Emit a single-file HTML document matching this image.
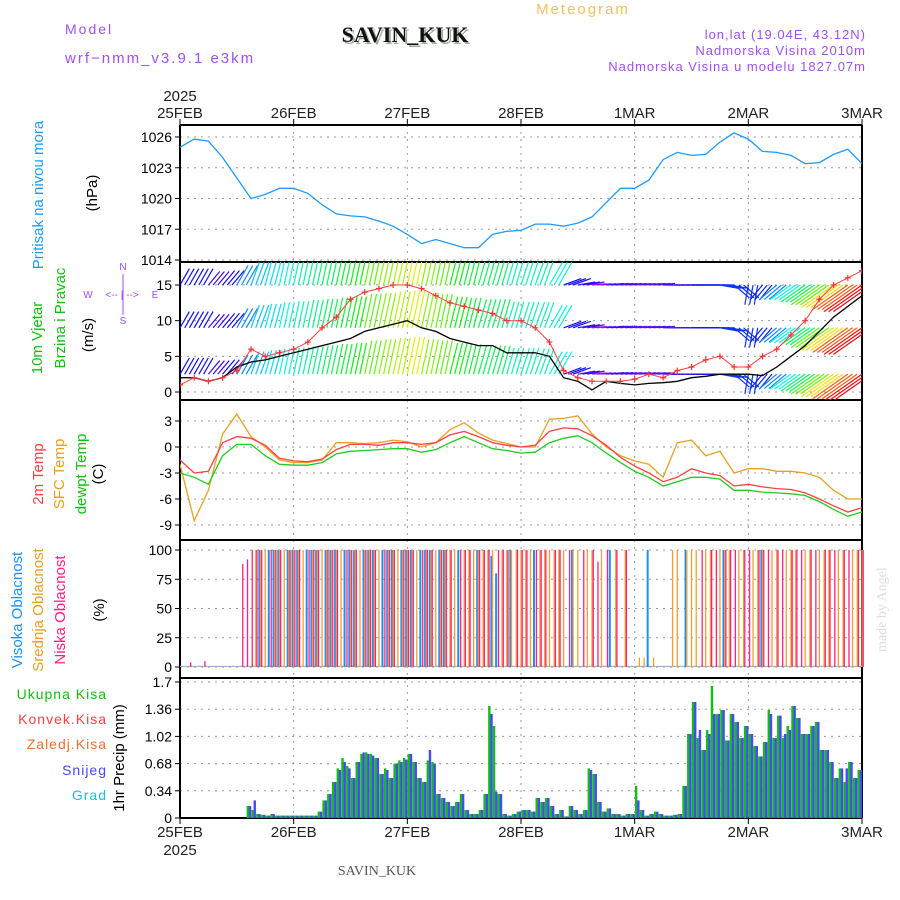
<!DOCTYPE html>
<html><head><meta charset="utf-8"><style>
body{margin:0;background:#fff;}
svg{display:block;font-family:"Liberation Sans",sans-serif;}
</style></head><body>
<svg id="c" width="900" height="900" viewBox="0 0 900 900">
<text x="65" y="34" font-size="14" fill="#a050f0" letter-spacing="2">Model</text>
<text x="65" y="63" font-size="15" fill="#a050f0" letter-spacing="2">wrf−nmm_v3.9.1 e3km</text>
<text x="407" y="44" font-size="22" font-weight="bold" font-family="Liberation Serif,serif" fill="#9ab09a" text-anchor="middle">SAVIN_KUK</text>
<text x="405" y="42" font-size="22" font-weight="bold" font-family="Liberation Serif,serif" fill="#111" text-anchor="middle">SAVIN_KUK</text>
<text x="583" y="14" font-size="15" fill="#f0c060" text-anchor="middle" letter-spacing="2">Meteogram</text>
<text x="866" y="39" font-size="13" fill="#a050f0" text-anchor="end" letter-spacing="1">lon,lat (19.04E, 43.12N)</text>
<text x="866" y="55" font-size="13" fill="#a050f0" text-anchor="end" letter-spacing="1">Nadmorska Visina 2010m</text>
<text x="866" y="71" font-size="13" fill="#a050f0" text-anchor="end" letter-spacing="1">Nadmorska Visina u modelu 1827.07m</text>
<text x="377" y="875" font-size="14" font-family="Liberation Serif,serif" fill="#555" text-anchor="middle">SAVIN_KUK</text>
<text transform="translate(886,652) rotate(-90)" font-size="14" font-family="Liberation Serif,serif" fill="#d8e0d8">made by Angel</text>
<g id="g"></g>
</svg>
<script>
const days=['25FEB','26FEB','27FEB','28FEB','1MAR','2MAR','3MAR'];
const pressure=[1025,1025.8,1025.6,1024,1022,1020,1020.4,1021,1021,1020.5,1019.4,1018.5,1018.3,1018.2,1017.8,1017.3,1016.5,1015.6,1016,1015.6,1015.2,1015.2,1016.5,1016.8,1016.9,1017.5,1017.5,1017.3,1017.6,1018.2,1019.6,1021,1021,1021.8,1023.8,1024.5,1024.2,1024.3,1025.5,1026.4,1025.8,1024.6,1024.5,1024.2,1023.4,1023.5,1024.3,1024.8,1023.4];
const windSpd=[2,2,1.5,2,3.5,4.2,4.5,5,5.5,6,6.5,7,7.5,8.5,9,9.5,10,9,8.5,7.5,7,6.5,6.5,5.5,5.5,5.5,5,2,1.5,0.3,1.5,1.2,1,1.2,1.3,1.5,2,2.2,2.5,2.5,2.5,2.3,3.5,5,6.5,8.5,10.5,12,13.5];
const windGust=[1,2,1.5,2,3,6,5,5.5,6,7,9,10.5,13,14,14.5,15,15,14.5,13.5,12.5,12,11.5,11,10,10,9,7,3,2,1.5,1.5,1.5,1.8,2.5,2,3,3.5,4.5,5,3.5,3.5,5,6,8,10,13,15,16,17];
const windDir=[60,60,50,50,60,70,75,78,78,78,78,78,78,78,78,78,78,78,78,76,76,74,74,74,72,70,60,20,10,5,5,5,5,5,0,0,0,0,-10,-40,-100,-130,-140,-145,-145,-145,-145,-145,-145];
const temp2m=[-1.5,-3,-2.8,0.5,1.2,1,0.2,-1.3,-1.6,-1.7,-1.4,-0.3,0.3,0.3,0.2,0.5,0.5,0.3,0.5,1.4,1.8,1.2,0.5,0.2,0,0.2,1.8,2.2,2.1,1.3,0.2,-1.2,-2.2,-3,-4,-3.5,-2.5,-3,-3.3,-4.5,-4.3,-4.6,-4.8,-4.9,-5.3,-6,-6.8,-7.5,-7];
const tempSfc=[-2,-8.5,-5,1.5,3.8,1.2,0,-1.5,-1.8,-1.8,-1.5,0.5,0.5,0.4,0.5,0.8,0.6,0,0.5,2,2.8,1.6,0.8,0.4,0,0,3.2,3.3,3.6,1.5,0,-1,-1.6,-2,-3.5,0.5,0.8,-1,-0.5,-3,-2.5,-2.5,-2.8,-2.8,-3,-3.5,-5,-6,-6];
const dewpt=[-3,-3.5,-4.3,-1,0.3,0.3,-1,-2,-2.1,-2.1,-1.8,-0.8,-0.5,-0.4,-0.3,-0.2,-0.2,-0.6,-0.3,0.5,1.2,0.5,-0.2,-0.4,-0.7,-0.6,0.5,1,1.3,0.5,-0.7,-1.8,-2.8,-3.5,-4.5,-4,-3.5,-3.5,-3.7,-5,-5,-5.2,-5.3,-5.4,-5.6,-6.3,-7.2,-8,-7.5];
const cloudLow=[0,0,4,0,0,5,0,0,0,0,0,0,0,88,92,100,
100,100,0,100,100,100,0,100,100,100,0,100,100,100,0,100,100,100,0,100,100,100,0,100,100,100,0,100,100,100,0,100,100,100,0,100,100,100,0,100,100,100,0,100,100,100,0,100,100,100,0,100,100,100,0,100,100,100,0,100,100,100,0,100,
100,0,100,0,0,100,0,100,90,0,100,0,100,0,100,0,
0,0,0,0,0,0,0,0,0,0,0,0,0,0,
100,0,100,100,0,100,100,100,0,100,100,0,100,100,100,0,100,100,0,100,100,100,0,100,100,0,100,100,100,0,100,100,0,100,100];
const cloudMid=[0,0,0,0,0,0,0,0,0,0,0,0,0,0,0,0,
100,100,100,0,100,100,100,100,100,100,100,0,100,100,100,100,100,100,100,0,100,100,100,100,100,100,100,0,100,100,100,100,100,100,100,0,100,100,100,100,100,100,100,0,100,100,100,100,100,100,100,0,100,100,100,100,100,100,100,0,100,100,100,100,
100,100,0,100,100,0,100,100,0,100,0,0,100,0,100,0,0,
8,8,0,8,0,0,0,
100,100,0,100,100,100,0,100,100,0,100,100,100,0,100,100,0,100,100,100,0,100,100,0,100,100,100,0,100,100,0,100,100,100,0,100,100,0,100,100,100];
const cloudHigh=[0,0,0,0,0,0,0,0,0,0,0,0,0,0,0,0,0,
100,0,100,100,100,0,100,100,100,0,100,100,100,0,100,100,100,0,100,100,100,0,100,100,100,0,100,100,100,0,100,100,100,0,100,100,100,0,100,100,
0,0,100,0,0,0,100,0,0,95,80,0,0,100,0,0,
0,0,100,0,0,0,0,0,0,0,100,0,0,0,0,0,0,0,100,0,0,0,0,0,0,0,100,0,0,0,0,0,0,0,100,0,0,0,0,0,0,0,100,0,0,0,0,0,0,0,100,0,0,0,0,0];
const precipTotal=[0,0,0,0,0,0,0,0,0,0,0,0,0,0,0.15,0.1,0.05,0.04,0.03,0.05,0.03,0.03,0.03,0.03,0.03,0.03,0.03,0.03,0.03,0.08,0.22,0.3,
0.45,0.62,0.75,0.65,0.5,0.7,0.8,0.82,0.8,0.75,0.55,0.62,0.5,0.68,0.72,0.75,0.8,0.7,0.5,0.45,0.72,0.7,0.3,0.25,0.2,0.15,0.2,0.3,0.1,0.05,0.05,0.1,0.3,1.4,
1.15,0.3,0.05,0.03,0.05,0.08,0.1,0.1,0.08,0.25,0.2,0.25,0.15,0.05,0.1,0.02,0.15,0.1,0.05,0.1,0.62,0.55,0.2,0.08,0.12,0.05,0.05,0.03,0.05,0.05,0.4,0.1,0.03,0.05,0.08,0.05,0.03,0.03,0.04,0.05,0.4,
1.05,1.45,1.0,0.85,1.1,1.65,1.3,1.35,0.97,1.3,1.2,1.0,1.15,1.05,0.9,0.77,0.95,1.35,1.0,1.28,1.0,1.15,1.4,1.25,1.05,1.05,1.15,1.2,0.85,0.85,0.7,0.5,0.62,0.45,0.7,0.5,0.6];
const precipSnow=[0,0,0,0,0,0,0,0,0,0,0,0,0,0,0.15,0.22,0.05,0.04,0.03,0.05,0.03,0.03,0.03,0.03,0.03,0.03,0.03,0.03,0.03,0.08,0.22,0.3,
0.45,0.6,0.7,0.62,0.5,0.7,0.82,0.8,0.78,0.75,0.55,0.6,0.5,0.68,0.7,0.73,0.8,0.7,0.5,0.45,0.85,0.68,0.3,0.25,0.2,0.15,0.2,0.3,0.1,0.05,0.05,0.1,0.3,1.3,
0.33,0.3,0.05,0.03,0.05,0.08,0.1,0.1,0.08,0.25,0.2,0.25,0.15,0.05,0.1,0.02,0.15,0.1,0.05,0.1,0.6,0.55,0.2,0.08,0.12,0.05,0.05,0.03,0.05,0.05,0.22,0.1,0.03,0.05,0.08,0.05,0.03,0.03,0.04,0.05,0.4,
1.05,1.45,1.1,0.85,1.05,1.3,1.3,1.35,0.97,1.3,1.2,1.0,1.15,1.05,0.9,0.77,0.95,1.3,1.0,1.28,1.05,1.1,1.4,1.25,1.05,1.05,1.15,1.2,0.85,0.85,0.7,0.5,0.62,0.62,0.7,0.5,0.6];
const pTicks=[1014,1017,1020,1023,1026], wTicks=[0,5,10,15], tTicks=[-9,-6,-3,0,3], cTicks=[0,25,50,75,100], rTicks=[0,0.34,0.68,1.02,1.36,1.7];

const NS='http://www.w3.org/2000/svg', G=document.getElementById('g');
const X0=180,X1=862,HOURS=144;
const xh=h=>X0+(X1-X0)*h/HOURS;
const x3=i=>xh(i*3);
function lin(d0,d1,r0,r1){return v=>r0+(v-d0)*(r1-r0)/(d1-d0);}
const yP=lin(1014,1026,260,137), yW=lin(0,15,392,285), yT=lin(-9,3,525,421), yC=lin(0,100,667,550), yR=lin(0,1.7,818,682);
function el(t,a,p){const e=document.createElementNS(NS,t);for(const k in a)e.setAttribute(k,a[k]);(p||G).appendChild(e);return e;}
const panels=[[125,262,pTicks,yP,'pressure'],[262,400,wTicks,yW,'wind'],[400,540,tTicks,yT,'temperature'],[540,678,cTicks,yC,'cloud'],[678,818,rTicks,yR,'precip']];
panels.forEach(p=>{
  const g=el('g',{});
  
  
  for(let d=1;d<6;d++){const l=el('line',{x1:xh(d*24),x2:xh(d*24),y1:p[0],y2:p[1],stroke:'#999','stroke-dasharray':'2,5'},g);
    }
  p[2].forEach(v=>{const y=p[3](v);
    const l=el('line',{x1:X0,x2:X1,y1:y,y2:y,stroke:'#999','stroke-dasharray':'2,5'},g);
    
    el('line',{x1:X0-5,x2:X0,y1:y,y2:y,stroke:'#000'},g);
    const t=el('text',{x:X0-8,y:y+5,'font-size':14,'text-anchor':'end',fill:'#000'},g);
    t.textContent=String(v);
    });
});
[125,262,400,540,678,818].forEach(y=>{const l=el('line',{x1:X0,x2:X1,y1:y,y2:y,stroke:'#000','stroke-width':2});});
el('line',{x1:X0,x2:X0,y1:125,y2:818,stroke:'#000','stroke-width':2});
el('line',{x1:X1,x2:X1,y1:125,y2:818,stroke:'#000','stroke-width':2});
days.forEach((d,i)=>{const x=xh(i*24);
  el('line',{x1:x,x2:x,y1:119,y2:125,stroke:'#000'});el('line',{x1:x,x2:x,y1:818,y2:824,stroke:'#000'});
  let t=el('text',{x:x,y:118,'font-size':15,'text-anchor':'middle',fill:'#222'});t.textContent=d;
  
  t=el('text',{x:x,y:837,'font-size':15,'text-anchor':'middle',fill:'#222'});t.textContent=d;
  });
let t=el('text',{x:X0,y:101,'font-size':15,'text-anchor':'middle',fill:'#222'});t.textContent='2025';

t=el('text',{x:X0,y:855,'font-size':15,'text-anchor':'middle',fill:'#222'});t.textContent='2025';

function line(arr,yf,col,w,name,clip){const d=arr.map((v,i)=>(i?'L':'M')+x3(i).toFixed(1)+','+yf(v).toFixed(1)).join('');
  const p=el('path',{d:d,fill:'none',stroke:col,'stroke-width':w,'clip-path':clip||''});return p;}
const defs=el('defs',{});
[['cp1',125,262],['cp2',262,400],['cp3',400,540]].forEach(c=>{const cp=el('clipPath',{id:c[0]},defs);el('rect',{x:X0,y:c[1],width:X1-X0,height:c[2]-c[1]},cp);});
line(pressure,yP,'#1e9bff',1.3,'pressure-line','url(#cp1)');
const wg=el('g',{'clip-path':'url(#cp2)'});

[2.5,9,15].forEach(lv=>{windSpd.forEach((s,i)=>{
  const L=14+2.4*s, a=windDir[i]*Math.PI/180, x=x3(i), y=yW(lv);
  const col='hsl('+Math.max(0,285-s*22)+',90%,50%)';
  for(let k=0;k<3;k++){const xx=x+k*4.7;
  const ln=el('line',{x1:xx,y1:y,x2:xx+L*Math.cos(a),y2:y-L*Math.sin(a),stroke:col,'stroke-width':1.2},wg);
  }
});});
line(windSpd,yW,'#000',1.3,'wind-speed-line','url(#cp2)');
line(windGust,yW,'#ff4040',1,'wind-gust-line','url(#cp2)');
windGust.forEach((v,i)=>{const x=x3(i),y=yW(v);const p=el('path',{d:`M${x-3},${y}h6M${x},${y-3}v6`,stroke:'#ff3030','stroke-width':1.2,'clip-path':'url(#cp2)'});
  });
line(tempSfc,yT,'#e8a020',1.3,'sfc-temp-line','url(#cp3)');
line(temp2m,yT,'#ff4040',1.3,'2m-temp-line','url(#cp3)');
line(dewpt,yT,'#20cc20',1.3,'dewpoint-line','url(#cp3)');
el('line',{x1:X0,x2:X1,y1:yC(0.5),y2:yC(0.5),stroke:'#88aacc','stroke-width':1});
[[cloudHigh,'#2090f0',-1.2,2],[cloudMid,'#f0a030',0,1.3],[cloudLow,'#ff2080',1.2,1.3]].forEach(c=>{
  c[0].forEach((v,h)=>{if(v<=0)return;const x=xh(h)+c[2];
    const l=el('line',{x1:x,x2:x,y1:yC(0),y2:yC(v),stroke:c[1],'stroke-width':c[3]});
    });});
precipTotal.forEach((v,h)=>{const x=xh(h);
  const r=el('rect',{x:x+0.3,y:yR(v),width:2.4,height:yR(0)-yR(v),fill:'#10c010'});
  });
precipSnow.forEach((v,h)=>{const x=xh(h);
  const r=el('rect',{x:x+2.5,y:yR(v),width:2.4,height:yR(0)-yR(v),fill:'#4848ff'});
  });
function vt(txt,x,y,col,fs,name){const t=el('text',{transform:`translate(${x},${y}) rotate(-90)`,'font-size':fs,fill:col,'text-anchor':'middle'});t.textContent=txt;
  }
vt('Pritisak na nivou mora',43,195,'#1e9bff',15,'pressure-title');
vt('(hPa)',97,193,'#000',15,'pressure-unit');
vt('10m Vjetar',42,338,'#10c010',15,'wind-title-1');
vt('Brzina i Pravac',65,318,'#10c010',15,'wind-title-2');
vt('(m/s)',93,335,'#000',15,'wind-unit');
vt('2m Temp',43,474,'#ff4040',15,'temp2m-title');
vt('SFC Temp',64,474,'#e8a020',15,'sfc-temp-title');
vt('dewpt Temp',86,474,'#10c010',15,'dewpt-title');
vt('(C)',103,474,'#000',15,'temp-unit');
vt('Visoka Oblacnost',22,610,'#2090f0',15,'high-cloud-title');
vt('Srednja Oblacnost',43,610,'#e8a020',15,'mid-cloud-title');
vt('Niska Oblacnost',65,610,'#ff2080',15,'low-cloud-title');
vt('(%)',104,610,'#000',15,'cloud-unit');
vt('1hr Precip (mm)',124,758,'#000',15,'precip-unit');
[['Ukupna Kisa','#10c010',699],['Konvek.Kisa','#ff4040',724],['Zaledj.Kisa','#f07030',749],['Snijeg','#4848ff',775],['Grad','#20c0d0',800]].forEach(l=>{
  const t=el('text',{x:107,y:l[2],'font-size':14,fill:l[1],'text-anchor':'end','letter-spacing':1});t.textContent=l[0];
  });
const cg=el('g',{'font-size':10,fill:'#a050f0','text-anchor':'middle'});

[['N',123,270],['W',88,298],['E',155,298],['S',123,324],['<-- | -->',122,298]].forEach(c=>{const t=el('text',{x:c[1],y:c[2]},cg);t.textContent=c[0];});
el('line',{x1:123,x2:123,y1:274,y2:315,stroke:'#a050f0'},cg);
</script>
</body></html>
